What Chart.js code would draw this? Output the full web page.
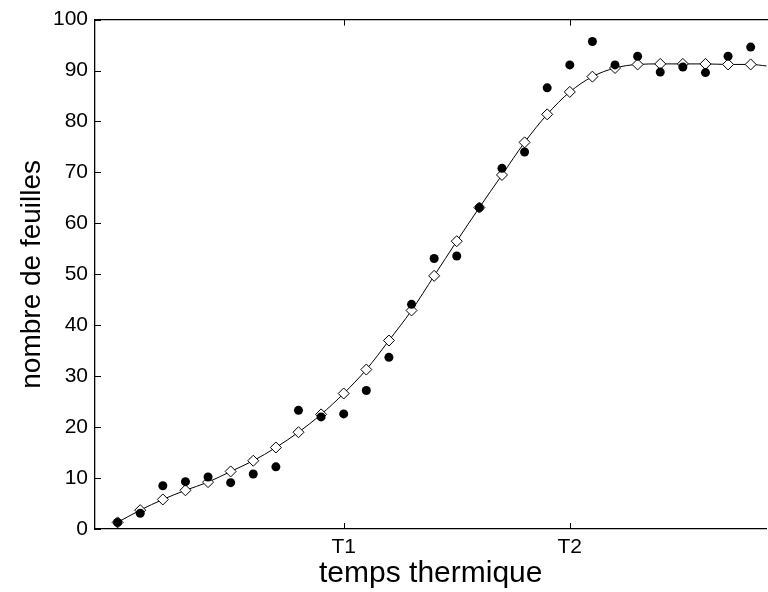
<!DOCTYPE html>
<html>
<head>
<meta charset="utf-8">
<script src="https://cdn.jsdelivr.net/npm/chart.js@4/dist/chart.umd.min.js"></script>
<style>
  html, body { margin: 0; padding: 0; background: #fff; overflow: hidden; }
  #wrap { width: 768px; height: 592px; overflow: hidden; }
  canvas { display: block; }
</style>
</head>
<body>
<!-- canvas is a bit wider than the window: the frame runs off the right edge like the original -->
<div id="wrap"><canvas id="chart" width="773" height="592"></canvas></div>
<script>
// temps thermique steps (0 .. 28), T1 at step 10, T2 at step 20
const steps = [0,1,2,3,4,5,6,7,8,9,10,11,12,13,14,15,16,17,18,19,20,21,22,23,24,25,26,27,28];
const observed = [1.3,3.1,8.5,9.3,10.2,9.1,10.8,12.2,23.3,22.0,22.6,27.2,33.7,44.1,53.1,53.6,63.1,70.8,74.0,86.6,91.1,95.7,91.1,92.8,89.7,90.7,89.6,92.8,94.6];
const model = [1.3,3.7,5.8,7.6,9.2,11.3,13.4,16.0,19.0,22.5,26.6,31.3,37.0,42.9,49.7,56.5,63.1,69.5,75.9,81.4,85.8,88.8,90.5,91.2,91.3,91.3,91.3,91.2,91.2];
// the model curve runs on to the right edge of the frame
const curveEndX = 28.7;
const curveEndY = 90.9;
const xTickValues = [10, 20];
const xTickLabels = ["T1", "T2"];
const yTicks = [0,10,20,30,40,50,60,70,80,90,100];

const FONT = "'Liberation Sans', Arial, Helvetica, sans-serif";

const modelPts = steps.map((s, i) => ({ x: s, y: model[i] }));
const curvePts = modelPts.concat([{ x: curveEndX, y: curveEndY }]);
const obsPts = steps.map((s, i) => ({ x: s, y: observed[i] }));

// frame: top line plus inward tick marks (matlab style)
const framePlugin = {
    id: "frame",
    afterDraw(chart) {
        const ctx = chart.ctx;
        const a = chart.chartArea;
        const xs = chart.scales.x, ys = chart.scales.y;
        ctx.save();
        ctx.strokeStyle = "#000";
        ctx.lineWidth = 1.3;
        ctx.beginPath();
        ctx.moveTo(a.left, a.top);
        ctx.lineTo(a.right + 5, a.top);
        ctx.stroke();
        ctx.lineWidth = 1;
        ctx.beginPath();
        yTicks.forEach(v => {
            const py = Math.round(ys.getPixelForValue(v)) + 0.5;
            ctx.moveTo(a.left, py);
            ctx.lineTo(a.left + 6, py);
        });
        xTickValues.forEach(v => {
            const px = Math.round(xs.getPixelForValue(v)) + 0.5;
            ctx.moveTo(px, a.bottom);
            ctx.lineTo(px, a.bottom - 6);
            ctx.moveTo(px, a.top);
            ctx.lineTo(px, a.top + 6);
        });
        ctx.stroke();
        ctx.restore();
    }
};

new Chart(document.getElementById("chart"), {
    type: "scatter",
    data: {
        datasets: [
            {
                label: "observé",
                data: obsPts,
                pointStyle: "circle",
                pointRadius: 4.5,
                backgroundColor: "#000",
                borderColor: "#000",
                borderWidth: 0,
                showLine: false,
                order: 0
            },
            {
                label: "modèle",
                data: modelPts,
                pointStyle: "rectRot",
                pointRadius: 5.5,
                backgroundColor: "#fff",
                borderColor: "#000",
                borderWidth: 1,
                showLine: false,
                order: 1
            },
            {
                label: "courbe",
                data: curvePts,
                pointRadius: 0,
                borderColor: "#000",
                borderWidth: 1,
                showLine: true,
                tension: 0.4,
                cubicInterpolationMode: "monotone",
                clip: false,
                order: 2
            }
        ]
    },
    options: {
        responsive: false,
        animation: false,
        devicePixelRatio: 1,
        layout: { padding: { top: 18, right: 0, left: 0, bottom: 0 } },
        plugins: {
            legend: { display: false },
            tooltip: { enabled: false }
        },
        scales: {
            x: {
                type: "linear",
                min: -1,
                max: curveEndX,
                afterBuildTicks: s => { s.ticks = xTickValues.map(v => ({ value: v })); },
                afterFit: s => { s.height = 63; },
                ticks: {
                    color: "#000",
                    font: { family: FONT, size: 21 },
                    padding: 6,
                    maxRotation: 0,
                    callback: v => xTickLabels[xTickValues.indexOf(v)]
                },
                grid: { drawOnChartArea: false, drawTicks: false },
                border: { color: "#000", width: 1.3 },
                title: {
                    display: true,
                    text: "temps thermique",
                    color: "#000",
                    font: { family: FONT, size: 30 },
                    padding: { top: 0, bottom: 0 }
                }
            },
            y: {
                type: "linear",
                min: 0,
                max: 100,
                afterBuildTicks: s => { s.ticks = yTicks.map(v => ({ value: v })); },
                afterFit: s => { s.width = 95; },
                ticks: {
                    color: "#000",
                    font: { family: FONT, size: 21 },
                    padding: 7
                },
                grid: { drawOnChartArea: false, drawTicks: false },
                border: { color: "#000", width: 1.3 },
                title: {
                    display: true,
                    text: "nombre de feuilles",
                    color: "#000",
                    font: { family: FONT, size: 28 },
                    padding: { top: 15, bottom: 0 }
                }
            }
        }
    },
    plugins: [framePlugin]
});
</script>
</body>
</html>
